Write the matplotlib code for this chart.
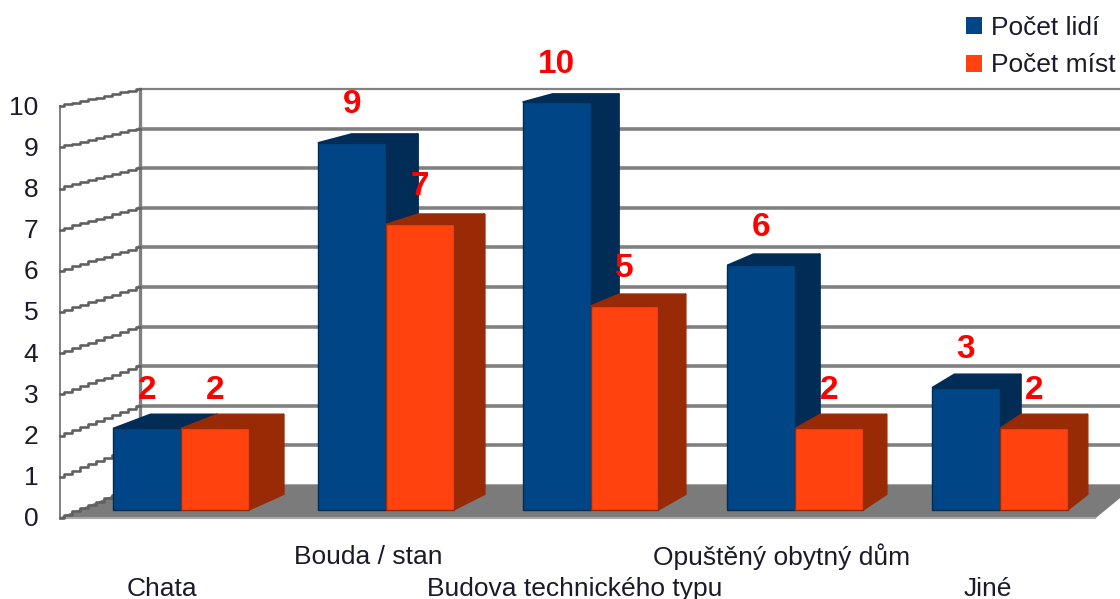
import numpy as np
import matplotlib
matplotlib.use('Agg')
import matplotlib.pyplot as plt
from matplotlib.patches import Patch

plt.rcParams['font.family'] = ['Liberation Sans', 'DejaVu Sans']

kategorie = ['Chata', 'Bouda / stan', 'Budova technického typu', 'Opuštěný obytný dům', 'Jiné']
pocet_lidi = [2, 9, 10, 6, 3]
pocet_mist = [2, 7, 5, 2, 2]
hodnoty_osy = list(range(0, 11))

MODRA = '#004586'
MODRA_TMAVA = '#002c56'
ORANZ = '#ff420e'
ORANZ_TMAVA = '#992a06'
SEDA = '#808080'

# perspektiva: body se pri hloubce d posouvaji k uberacimu bodu
VP_X = 9.57
VP_Y = 20.83
D_PRED = -0.0094
D_ZAD = 0.0294
D_SLOUP = 0.0185
SIRKA = 0.332
LEVY = -0.496
PRAVY = 4.51


def proj(x, y, d):
    return x + (VP_X - x) * d, y + (VP_Y - y) * d


def plocha(ax, body, barva, hrana=None, z=2):
    xs = [b[0] for b in body]
    ys = [b[1] for b in body]
    ax.fill(xs, ys, facecolor=barva, edgecolor=hrana or barva, lw=1, zorder=z)


def sloupec(ax, x0, x1, v, barva, tmava, z):
    # bok, vrch, predek
    plocha(ax, [proj(x1, 0, 0), proj(x1, 0, D_SLOUP), proj(x1, v, D_SLOUP), proj(x1, v, 0)], tmava, z=z)
    plocha(ax, [proj(x0, v, 0), proj(x0, v, D_SLOUP), proj(x1, v, D_SLOUP), proj(x1, v, 0)], tmava, z=z)
    plocha(ax, [(x0, 0), (x1, 0), (x1, v), (x0, v)], barva, hrana=tmava, z=z + 0.1)


fig = plt.figure(figsize=(11.2, 5.99), dpi=100)
ax = fig.add_axes([0, 0, 1, 1])
ax.set_xlim(-181 / 204.75, (1120 - 181) / 204.75)
ax.set_ylim(-89 / 40.8, 510 / 40.8)
ax.axis('off')

# podlaha
plocha(ax, [proj(LEVY, 0, D_PRED), proj(PRAVY, 0, D_PRED), proj(PRAVY, 0, D_ZAD), proj(LEVY, 0, D_ZAD)], '#7b7b7b', z=1)
xa, ya = proj(LEVY, 0, D_PRED)
xb, yb = proj(PRAVY, 0, D_PRED)
ax.plot([xa, xb], [ya, yb], color='#a8a8a8', lw=1.5, zorder=1.2)

# mrizka na zadni a bocni stene
for v in hodnoty_osy:
    if v > 0:
        xa, ya = proj(LEVY, v, D_ZAD)
        xb, yb = proj(PRAVY + 0.2, v, D_ZAD)
        ax.plot([xa, xb], [ya, yb], color=SEDA, lw=1.6 if v == 10 else 2.6, zorder=1)
    hl = np.linspace(D_PRED, D_ZAD, 11)
    xs, ys = proj(LEVY, v, hl)
    ax.plot(xs, ys, color='#606060', lw=1.9, drawstyle='steps-mid', zorder=1.5)

for d, lw in [(D_PRED, 1.4), (D_ZAD, 2.4)]:
    xa, ya = proj(LEVY, 0, d)
    xb, yb = proj(LEVY, 10, d)
    ax.plot([xa, xb], [ya, yb], color=SEDA, lw=lw, zorder=1.4)

# sloupce
for i in range(len(kategorie)):
    sloupec(ax, i - SIRKA, i, pocet_lidi[i], MODRA, MODRA_TMAVA, 2 + i)
    sloupec(ax, i, i + SIRKA, pocet_mist[i], ORANZ, ORANZ_TMAVA, 2.5 + i)

# popisky hodnot
for i in range(len(kategorie)):
    ax.text(i - SIRKA / 2, pocet_lidi[i] + 0.93, str(pocet_lidi[i]), color='#ff0000', fontsize=24,
            fontweight='bold', ha='center', va='center', zorder=20)
    ax.text(i + SIRKA / 2, pocet_mist[i] + 0.93, str(pocet_mist[i]), color='#ff0000', fontsize=24,
            fontweight='bold', ha='center', va='center', zorder=20)

# osa y
for v in hodnoty_osy:
    ax.annotate(str(v), xy=proj(LEVY, v, D_PRED), xytext=(-15.8, -1), textcoords='offset points',
                ha='right', va='center', fontsize=19, color='#1a1a2a')

# popisky kategorii ve dvou radcich
for i, nazev in enumerate(kategorie):
    x = proj(i, 0, D_PRED)[0] - 0.005
    y = (510 - 557) / 40.8 if i % 2 == 1 else (510 - 589) / 40.8
    ax.text(x, y, nazev, ha='center', va='center', fontsize=19, color='#1a1a2a')

ax.legend(handles=[Patch(facecolor=MODRA, label='Počet lidí'), Patch(facecolor=ORANZ, label='Počet míst')],
          loc='upper left', bbox_to_anchor=(966 / 1120, 1 - 16 / 599), frameon=False, fontsize=19,
          borderpad=0, borderaxespad=0, handlelength=0.61, handleheight=0.61, handletextpad=0.33,
          labelspacing=0.51, labelcolor='#1a1a2a')

fig.savefig('out.png', dpi=100)
